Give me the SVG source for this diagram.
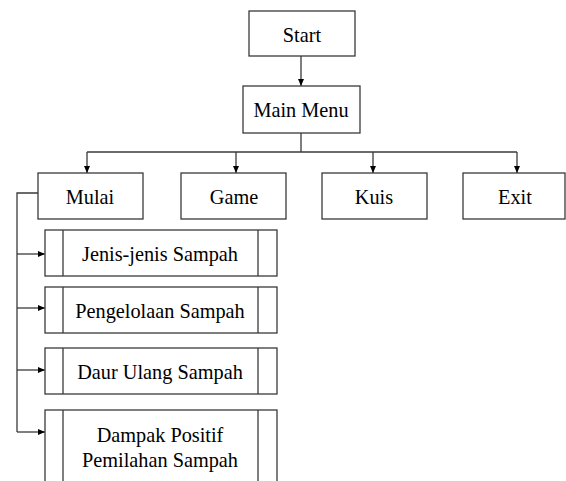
<svg xmlns="http://www.w3.org/2000/svg" width="566" height="481" viewBox="0 0 566 481">
<defs>
<marker id="arr" markerWidth="8" markerHeight="8" refX="7" refY="4" orient="auto" markerUnits="userSpaceOnUse">
<path d="M0,1 L7,4 L0,7 Z" fill="#000"/>
</marker>
<style>
.box{fill:#fff;stroke:#3a3a3a;stroke-width:1.3}
.ln{fill:none;stroke:#3a3a3a;stroke-width:1.3}
.t{font-family:"Liberation Serif","Times New Roman",serif;font-size:20.3px;fill:#000;text-anchor:middle}
</style>
</defs>
<rect width="566" height="481" fill="#fff"/>
<g id="connectors">
<path class="ln" d="M301,56 V86" marker-end="url(#arr)"/>
<path class="ln" d="M301,133 V152"/>
<path class="ln" d="M87,152 H517"/>
<path class="ln" d="M87,152 V173" marker-end="url(#arr)"/>
<path class="ln" d="M236,152 V173" marker-end="url(#arr)"/>
<path class="ln" d="M373,152 V173" marker-end="url(#arr)"/>
<path class="ln" d="M517,152 V173" marker-end="url(#arr)"/>
<path class="ln" d="M38,193 H17 V432"/>
<path class="ln" d="M17,254 H45" marker-end="url(#arr)"/>
<path class="ln" d="M17,308 H45" marker-end="url(#arr)"/>
<path class="ln" d="M17,370 H45" marker-end="url(#arr)"/>
<path class="ln" d="M17,432 H45" marker-end="url(#arr)"/>
</g>
<g id="start"><rect class="box" x="249" y="11" width="106" height="45"/><text class="t" x="302" y="42">Start</text></g>
<g id="main-menu"><rect class="box" x="243" y="86" width="117" height="47"/><text class="t" x="301" y="117">Main Menu</text></g>
<g id="mulai"><rect class="box" x="38" y="173" width="105" height="46"/><text class="t" x="90" y="204">Mulai</text></g>
<g id="game"><rect class="box" x="181" y="173" width="105" height="46"/><text class="t" x="234" y="204">Game</text></g>
<g id="kuis"><rect class="box" x="322" y="173" width="105" height="46"/><text class="t" x="374" y="204">Kuis</text></g>
<g id="exit"><rect class="box" x="463" y="173" width="102" height="46"/><text class="t" x="515" y="204">Exit</text></g>
<g id="jenis"><rect class="box" x="45" y="230" width="232" height="46"/><path class="ln" d="M63,230 V276 M258,230 V276"/><text class="t" x="160" y="261">Jenis-jenis Sampah</text></g>
<g id="pengelolaan"><rect class="box" x="45" y="287" width="232" height="46"/><path class="ln" d="M63,287 V333 M258,287 V333"/><text class="t" x="160" y="318">Pengelolaan Sampah</text></g>
<g id="daur"><rect class="box" x="45" y="348" width="232" height="46"/><path class="ln" d="M63,348 V394 M258,348 V394"/><text class="t" x="160" y="379">Daur Ulang Sampah</text></g>
<g id="dampak"><rect class="box" x="45" y="410" width="232" height="80"/><path class="ln" d="M63,410 V490 M258,410 V490"/><text class="t" x="160" y="442">Dampak Positif</text><text class="t" x="160" y="467">Pemilahan Sampah</text></g>
</svg>
